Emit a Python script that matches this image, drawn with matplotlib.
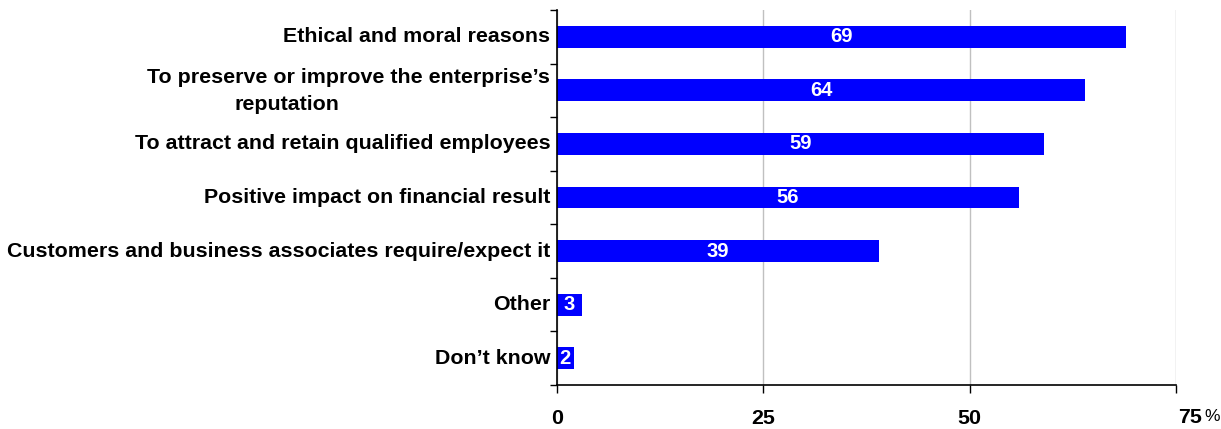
import numpy as np
import matplotlib
matplotlib.use("Agg")
import matplotlib.pyplot as plt
from matplotlib.transforms import blended_transform_factory

plt.rcParams['font.family'] = ['Liberation Sans', 'DejaVu Sans']

# Reasons for engaging, share of enterprises (%)
categories = [
    "Ethical and moral reasons",
    "To preserve or improve the enterprise\u2019s",
    "To attract and retain qualified employees",
    "Positive impact on financial result",
    "Customers and business associates require/expect it",
    "Other",
    "Don\u2019t know",
]
values = [69, 64, 59, 56, 39, 3, 2]
xticks = [0, 25, 50, 75]

bar_color = "#0000FF"
label_size = 15.4

fig = plt.figure(figsize=(12.21, 4.29), dpi=100)
ax = fig.add_axes([557 / 1221, 1 - 385 / 429, (1176 - 557) / 1221, (385 - 10) / 429])

y = np.arange(len(categories))
ax.barh(y, values, height=0.41, color=bar_color, zorder=3)
ax.set_ylim(len(categories) - 0.5, -0.5)
ax.set_xlim(0, 75)

# value labels inside the bars
for yi, v in zip(y, values):
    ax.text(v / 2, yi, str(v), ha="center", va="center", color="white",
            fontsize=14.5, fontweight="bold", zorder=4)

# category labels to the left of the axis
trans = blended_transform_factory(ax.transAxes, ax.transData)
for yi, lab in zip(y, categories):
    dy = -0.24 if yi == 1 else 0.0
    ax.text(-0.011, yi + dy, lab, transform=trans, ha="right", va="center",
            fontsize=label_size, fontweight="bold")
ax.text(-0.352, 1 + 0.27, "reputation", transform=trans, ha="right", va="center",
        fontsize=label_size, fontweight="bold")

ax.set_yticks([])
ax.set_yticks(np.arange(len(categories) + 1) - 0.5, minor=True)
ax.tick_params(axis="y", which="minor", length=5, width=1, direction="out")

# last tick label sits a little to the right, followed by the unit
ax.set_xticks(xticks)
ax.set_xticklabels([str(t) for t in xticks[:-1]] + [""], fontsize=label_size,
                   fontweight="bold")
ax.tick_params(axis="x", length=6, width=1, direction="out", pad=11)
ax.text(1.0032, -0.087, str(xticks[-1]), transform=ax.transAxes, ha="left",
        va="center", fontsize=label_size, fontweight="bold")
ax.text(1.0455, -0.085, "%", transform=ax.transAxes, ha="left", va="center",
        fontsize=12.5)

ax.xaxis.grid(True, color="#c0c0c0", linewidth=1, zorder=0)
for s in ["top", "right"]:
    ax.spines[s].set_visible(False)
for s in ["left", "bottom"]:
    ax.spines[s].set_linewidth(1.2)
    ax.spines[s].set_zorder(5)

fig.savefig("out.png", dpi=100)
